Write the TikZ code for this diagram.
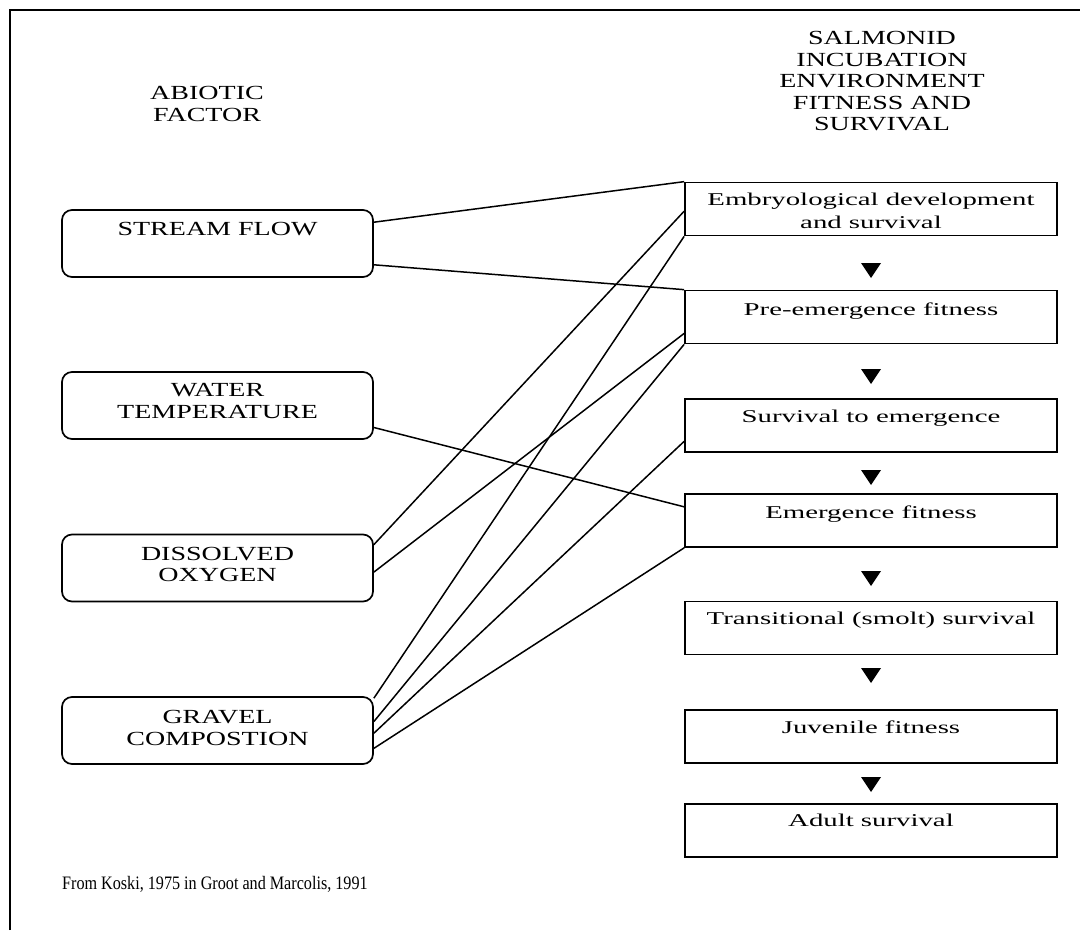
\documentclass[tikz,border=0pt]{standalone}
\usepackage{fontspec}
\setmainfont{Liberation Serif}
\newfontfamily\hdfont[FakeStretch=1.40]{Liberation Serif}
\newfontfamily\bxfont[FakeStretch=1.6]{Liberation Serif}
\newfontfamily\ftfont[FakeStretch=0.85]{Liberation Serif}
\usetikzlibrary{calc}
\tikzset{
  lbox/.style={draw, rounded corners=10pt, line width=1.7pt, inner sep=0pt,
    minimum width=311pt, minimum height=67pt},
  rbox/.style={draw, line width=1.7pt, inner sep=0pt,
    minimum width=372pt, minimum height=53pt},
  htext/.style={align=center, inner sep=0pt, anchor=north,
    font=\hdfont\fontsize{20}{21.6}\selectfont},
  btext/.style={align=center, inner sep=0pt, anchor=north,
    font=\bxfont\fontsize{18}{23}\selectfont},
  link/.style={line width=1.5pt},
  tri/.style={fill=black}
}
\begin{document}
\begin{tikzpicture}[x=1pt,y=-1pt]
\useasboundingbox (0,0) rectangle (1080,930);
% frame
\draw[line width=2.2pt] (10,930) -- (10,10) -- (1080,10);
% headers
\node[htext] (h1) at (207,86) {ABIOTIC\\FACTOR};
\node[htext] (h2) at (882,31) {SALMONID\\INCUBATION\\ENVIRONMENT\\FITNESS AND\\SURVIVAL};
% left boxes
\node[lbox] (sf) at (217.5,243.5) {};
\node[lbox] (wt) at (217.5,405.5) {};
\node[lbox] (dox) at (217.5,568) {};
\node[lbox] (gc) at (217.5,730.5) {};
\node[htext] (sft) at ($(sf.north)+(0,13)$) {STREAM FLOW};
\node[htext] (wtt) at ($(wt.north)+(0,12)$) {WATER\\TEMPERATURE};
\node[htext] (doxt) at ($(dox.north)+(0,13)$) {DISSOLVED\\OXYGEN};
\node[htext] (gct) at ($(gc.north)+(0,14)$) {GRAVEL\\COMPOSTION};
% right boxes
\node[rbox] (e1) at (871,209) {};
\node[rbox] (e2) at (871,317) {};
\node[rbox] (e3) at (871,425.5) {};
\node[rbox] (e4) at (871,520.5) {};
\node[rbox] (e5) at (871,628) {};
\node[rbox] (e6) at (871,736.5) {};
\node[rbox] (e7) at (871,830.5) {};
\node[btext] (e1t) at ($(e1.north)+(0,11)$) {Embryological development\\and survival};
\node[btext] (e2t) at ($(e2.north)+(0,13)$) {Pre-emergence fitness};
\node[btext] (e3t) at ($(e3.north)+(0,12)$) {Survival to emergence};
\node[btext] (e4t) at ($(e4.north)+(0,12)$) {Emergence fitness};
\node[btext] (e5t) at ($(e5.north)+(0,11)$) {Transitional (smolt) survival};
\node[btext] (e6t) at ($(e6.north)+(0,11)$) {Juvenile fitness};
\node[btext] (e7t) at ($(e7.north)+(0,11)$) {Adult survival};
% triangles
\foreach \yy in {263,369,470,571,668,777}{
  \fill[tri] (861,\yy) -- (881,\yy) -- (871,\yy+15) -- cycle;
}
% connectors
\draw[link] ($(sf.north east)!0.19!(sf.south east)$) -- (e1.north west);
\draw[link] ($(sf.north east)!0.81!(sf.south east)$) -- (e2.north west);
\draw[link] ($(wt.north east)!0.82!(wt.south east)$) -- ($(e4.north west)!0.25!(e4.south west)$);
\draw[link] ($(dox.north east)!0.16!(dox.south east)$) -- ($(e1.north west)!0.54!(e1.south west)$);
\draw[link] ($(dox.north east)!0.56!(dox.south east)$) -- ($(e2.north west)!0.8!(e2.south west)$);
\draw[link] ($(gc.north east)!0.03!(gc.south east)$) -- (e1.south west);
\draw[link] ($(gc.north east)!0.37!(gc.south east)$) -- (e2.south west);
\draw[link] ($(gc.north east)!0.54!(gc.south east)$) -- ($(e3.north west)!0.79!(e3.south west)$);
\draw[link] ($(gc.north east)!0.76!(gc.south east)$) -- (e4.south west);
% footer
\node[anchor=base west, inner sep=0pt, font=\ftfont\fontsize{19}{22}\selectfont] (ft) at (62,889) {From Koski, 1975 in Groot and Marcolis, 1991};
\end{tikzpicture}
\end{document}
